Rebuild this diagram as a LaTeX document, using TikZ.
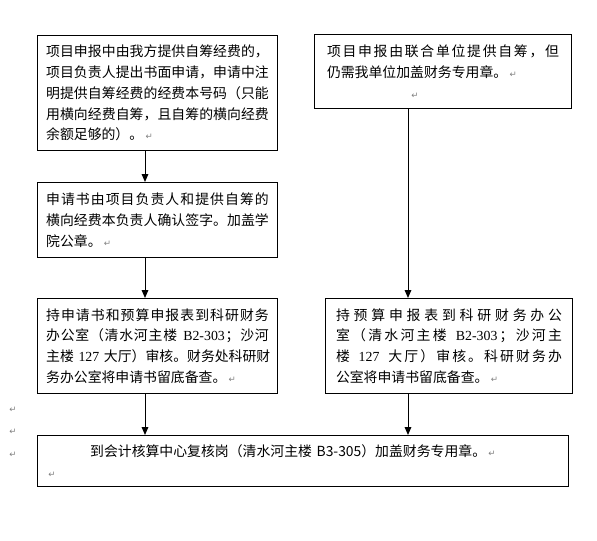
\documentclass[tikz,border=0pt]{standalone}
\usepackage{fontspec}
\newfontfamily\cjk{Noto Sans CJK SC}
\newfontfamily\lat{Liberation Serif}
\newfontfamily\symf{DejaVu Sans}
\usetikzlibrary{arrows.meta,positioning}
\newcommand{\ret}{\,{\symf\fontsize{6.5}{6.5}\selectfont\textcolor{gray}{↵}}}
% justified line: spread the characters over the whole width
\def\jlstop{jl-stop-marker}
\def\jlx#1{\ifx\jlstop#1\else{#1}\hskip 0pt plus 1fil\relax\expandafter\jlx\fi}
\newcommand{\jl}[1]{\leavevmode\hbox to \hsize{\jlx#1\jlstop\unskip}}

\begin{document}
\begin{tikzpicture}[->,>={Triangle[length=6pt,width=5pt]},line width=0.75pt,
  main node/.style={rectangle,draw,font=\cjk\fontsize{10.4}{15.6}\selectfont,
    align=left,inner xsep=6.5pt,inner ysep=3pt},
  ret node/.style={inner sep=0pt}]

  \useasboundingbox (0,0) rectangle (447.75pt,-405pt);

  \node[main node,anchor=north west,text width=167pt,minimum width=180pt,minimum height=86.25pt] (SelfFund) at (27.75pt,-26.25pt)
    {\jl{项目申报中由我方提供自筹经费的，}\\\jl{项目负责人提出书面申请，申请中注}\\\jl{明提供自筹经费的经费本号码（只能}\\\jl{用横向经费自筹，且自筹的横向经费}\\余额足够的）。\ret};
  \node[main node,text width=174pt,minimum width=192.75pt,minimum height=55.5pt] (JointFund) [right=27pt of SelfFund.north east,anchor=north west,yshift=0.75pt]
    {\jl{项目申报由联合单位提供自筹，但}\\仍需我单位加盖财务专用章。\ret\\\hspace*{61.5pt}\ret};
  \node[main node,text width=167pt,minimum width=180pt,minimum height=56.25pt] (Confirm) [below=23.25pt of SelfFund]
    {\jl{申请书由项目负责人和提供自筹的}\\\jl{横向经费本负责人确认签字。加盖学}\\院公章。\ret};
  \node[main node,text width=167pt,minimum width=180pt,minimum height=71.25pt] (AuditA) [below=30pt of Confirm]
    {\jl{持申请书和预算申报表到科研财务}\\\jl{办公室（清水河主楼~{\lat B2-303}；沙河}\\\jl{主楼~{\lat 127}~大厅）审核。财务处科研财}\\务办公室将申请书留底备查。\ret};
  \node[main node,text width=169.5pt,minimum width=185.25pt,minimum height=71.25pt] (AuditB) [right=35.25pt of AuditA]
    {\jl{持预算申报表到科研财务办公}\\\jl{室（清水河主楼~{\lat B2-303}；沙河主}\\\jl{楼~{\lat 127}~大厅）审核。科研财务办}\\公室将申请书留底备查。\ret};
  \node[main node,text width=385.25pt,minimum width=398.25pt,minimum height=38.25pt] (Stamp) [below=30.75pt of AuditA.south west,anchor=north west]
    {\hspace*{33pt}到会计核算中心复核岗（清水河主楼 B3-305）加盖财务专用章。\ret\\\ret};

  % stray paragraph marks at the margin
  \foreach \y [count=\i] in {-307.5,-324,-341.25}
    \node[ret node] (Mark\i) at (9pt,\y pt) {\ret};

  \coordinate (LeftCol) at (108.75pt,0);
  \coordinate (RightCol) at (306pt,0);

  \path
    (LeftCol |- SelfFund.south) edge (LeftCol |- Confirm.north)
    (LeftCol |- Confirm.south) edge (LeftCol |- AuditA.north)
    (LeftCol |- AuditA.south) edge (LeftCol |- Stamp.north)
    (RightCol |- JointFund.south) edge (RightCol |- AuditB.north)
    (RightCol |- AuditB.south) edge (RightCol |- Stamp.north)
    ;
\end{tikzpicture}
\end{document}
